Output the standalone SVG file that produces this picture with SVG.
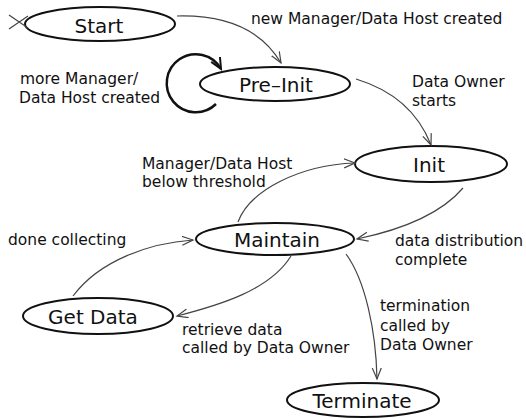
<svg xmlns="http://www.w3.org/2000/svg" width="526" height="418" viewBox="0 0 526 418">
<style>
.node ellipse{fill:none;stroke:#111;stroke-width:2}
.node text{font-family:"DejaVu Sans",Verdana,sans-serif;font-size:20px;fill:#111;text-anchor:middle}
.lbl{font-family:"DejaVu Sans",Verdana,sans-serif;font-size:15.5px;fill:#111}
.edge{fill:none;stroke:#444;stroke-width:1.2}
</style>
<defs>
<marker id="arr" markerUnits="userSpaceOnUse" markerWidth="13" markerHeight="11" refX="11" refY="5" orient="auto">
<path d="M0,0.5 L11,5 L0,9.5" fill="none" stroke="#444" stroke-width="1.2"/>
</marker>
<marker id="arrT" markerUnits="userSpaceOnUse" markerWidth="14" markerHeight="12" refX="12" refY="6" orient="auto">
<path d="M1,1 L12,6 L1,11" fill="none" stroke="#111" stroke-width="2"/>
</marker>
</defs>
<g id="start" class="node"><ellipse cx="100" cy="24" rx="75" ry="17"/><text x="99" y="33">Start</text></g>
<g id="preinit" class="node"><ellipse cx="275" cy="84" rx="75" ry="17"/><text x="276" y="92">Pre–Init</text></g>
<g id="init" class="node"><ellipse cx="431" cy="164" rx="76" ry="18"/><text x="429" y="172">Init</text></g>
<g id="maintain" class="node"><ellipse cx="275" cy="239" rx="79" ry="16"/><text x="277" y="247">Maintain</text></g>
<g id="getdata" class="node"><ellipse cx="98" cy="316" rx="75" ry="18"/><text x="93" y="324">Get Data</text></g>
<g id="terminate" class="node"><ellipse cx="363" cy="400" rx="76" ry="17"/><text x="362" y="408">Terminate</text></g>
<g id="connectors">
<path class="edge" d="M9,15 L28,28 M9,29 L28,16"/>
<path class="edge" d="M177,16 Q252,14 281,63" marker-end="url(#arr)"/>
<path class="edge" d="M356,79 Q412,96 431,145" marker-end="url(#arr)"/>
<path class="edge" d="M238,222 C250,190 300,165 355,163" marker-end="url(#arr)"/>
<path class="edge" d="M463,188 C440,215 400,230 357,239" marker-end="url(#arr)"/>
<path class="edge" d="M73,296 C100,260 150,243 193,240" marker-end="url(#arr)"/>
<path class="edge" d="M291,256 C270,290 220,305 177,316" marker-end="url(#arr)"/>
<path class="edge" d="M346,254 C365,280 376,330 377,379" marker-end="url(#arr)"/>
<path d="M216,104 A29,29 0 1 1 221,69" fill="none" stroke="#111" stroke-width="2.5" marker-end="url(#arrT)"/>
</g>
<g id="labels">
<text class="lbl" x="251" y="24">new Manager/Data Host created</text>
<text class="lbl" x="20" y="84">more Manager/</text>
<text class="lbl" x="19" y="103">Data Host created</text>
<text class="lbl" x="412" y="87">Data Owner</text>
<text class="lbl" x="412" y="106">starts</text>
<text class="lbl" x="142" y="169">Manager/Data Host</text>
<text class="lbl" x="142" y="187">below threshold</text>
<text class="lbl" x="395" y="246">data distribution</text>
<text class="lbl" x="395" y="265">complete</text>
<text class="lbl" x="8" y="245">done collecting</text>
<text class="lbl" x="182" y="335">retrieve data</text>
<text class="lbl" x="182" y="353">called by Data Owner</text>
<text class="lbl" x="380" y="311">termination</text>
<text class="lbl" x="380" y="331">called by</text>
<text class="lbl" x="380" y="350">Data Owner</text>
</g>
</svg>
